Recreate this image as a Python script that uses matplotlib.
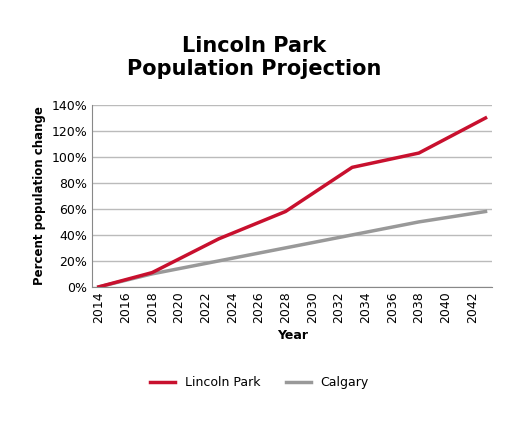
import matplotlib
matplotlib.use("Agg")
import matplotlib.pyplot as plt
from matplotlib.ticker import PercentFormatter

years_lp = [2014, 2018, 2023, 2028, 2033, 2038, 2043]
lincoln = [0, 11, 37, 58, 92, 103, 130]
years_cg = [2014, 2018, 2023, 2028, 2033, 2038, 2043]
calgary = [0, 10, 20, 30, 40, 50, 58]
xticks = list(range(2014, 2043, 2))

fig = plt.figure(figsize=(5.09, 4.25), dpi=100)
ax = fig.add_axes([0.181, 0.325, 0.786, 0.428])
ax.plot(years_cg, calgary, color="#999999", lw=2.5, label="Calgary")
ax.plot(years_lp, lincoln, color="#c8102e", lw=2.5, label="Lincoln Park")
ax.set_xlim(2013.5, 2043.5)
ax.set_ylim(0, 140)
ax.set_yticks(range(0, 141, 20))
ax.yaxis.set_major_formatter(PercentFormatter(decimals=0))
ax.set_xticks(xticks)
ax.tick_params(axis="x", rotation=90, length=0, labelsize=9)
ax.tick_params(axis="y", length=0, labelsize=9)
ax.grid(axis="y", color="#bbbbbb", lw=1)
ax.set_axisbelow(True)
for s in ["top", "right"]:
    ax.spines[s].set_visible(False)
for s in ["left", "bottom"]:
    ax.spines[s].set_color("#888888")
ax.set_xlabel("Year", fontweight="bold", fontsize=9)
ax.set_ylabel("Percent population change", fontweight="bold", fontsize=8.5)
fig.suptitle("Lincoln Park\nPopulation Projection", fontweight="bold", fontsize=15, y=0.915)
h, l = ax.get_legend_handles_labels()
fig.legend(h[::-1], l[::-1], loc="center", bbox_to_anchor=(0.51, 0.10), ncol=2, frameon=False, fontsize=9)
fig.savefig("out.png", dpi=100)
